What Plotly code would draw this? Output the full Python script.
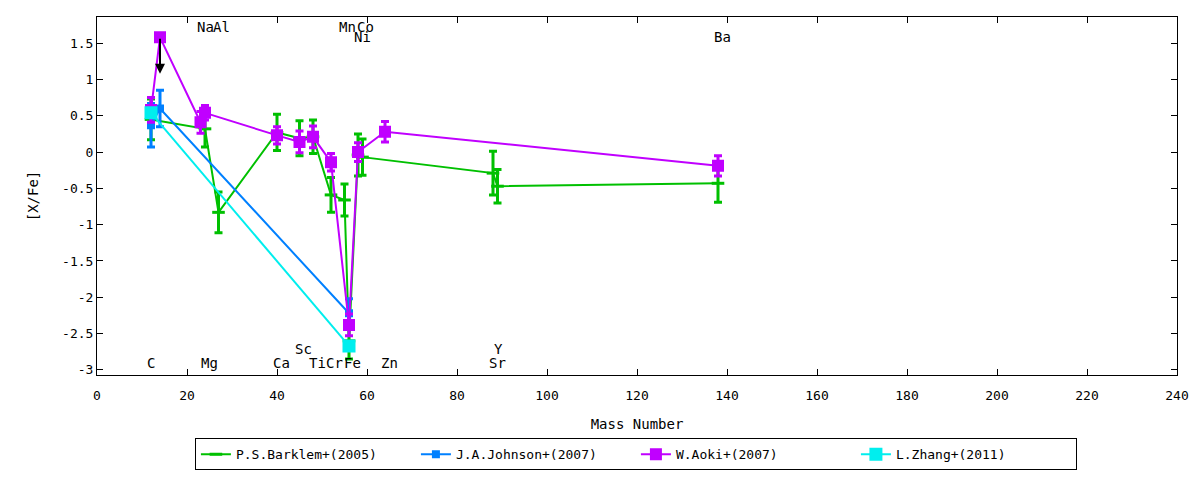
import plotly.graph_objects as go

# Abundance ratios [X/Fe] vs mass number, four literature sources
barklem_mass = [12, 24, 27, 40, 45, 48, 52, 55, 56, 58, 59, 88, 89, 138]
barklem_val = [0.45, 0.32, -0.83, 0.27, 0.19, 0.21, -0.59, -0.66, -2.60, -0.04, -0.07, -0.29, -0.47, -0.43]
barklem_err = [0.28, 0.25, 0.28, 0.25, 0.24, 0.23, 0.24, 0.22, 0.25, 0.29, 0.25, 0.30, 0.23, 0.26]

johnson_mass = [12, 14, 56]
johnson_val = [0.37, 0.60, -2.22]
johnson_err = [0.30, 0.25, 0.20]

aoki_mass = [12, 14, 23, 24, 40, 45, 48, 52, 56, 58, 64, 138]
aoki_val = [0.58, 1.58, 0.41, 0.54, 0.23, 0.14, 0.21, -0.14, -2.38, 0.00, 0.28, -0.19]
aoki_err = [0.17, 0.0, 0.15, 0.10, 0.12, 0.15, 0.15, 0.12, 0.15, 0.13, 0.14, 0.14]

zhang_mass = [12, 56]
zhang_val = [0.54, -2.67]
zhang_err = [0.05, 0.05]

# upper limit (N from Aoki) drawn as a downward arrow
limit_mass = 14
limit_val = 1.58
ARROW_LEN = 0.5

# element labels along top and bottom
elem_names = ["Na", "Al", "Mn", "Co", "Ni", "Ba",
              "C", "Mg", "Ca", "Sc", "Ti", "Cr", "Fe", "Zn", "Y", "Sr"]
elem_x = [24.0, 27.6, 55.6, 59.6, 58.9, 139.1,
          12.0, 25.1, 41.1, 45.8, 49.1, 52.7, 56.7, 65.1, 89.3, 88.9]
elem_y = [1.72, 1.72, 1.72, 1.72, 1.58, 1.58,
          -2.91, -2.91, -2.91, -2.71, -2.91, -2.91, -2.91, -2.91, -2.71, -2.91]

x_ticks = list(range(0, 241, 20))
y_ticks = [1.5, 1, 0.5, 0, -0.5, -1, -1.5, -2, -2.5, -3]
y_tick_labels = ["1.5", "1", "0.5", "0", "-0.5", "-1", "-1.5", "-2", "-2.5", "-3"]

FONT = "DejaVu Sans Mono"


def add_series(fig, mass, val, err, name, color, symbol, size, lw=2):
    fig.add_trace(go.Scatter(
        x=mass, y=val, name=name, mode="lines+markers",
        line=dict(color=color, width=lw),
        marker=dict(color=color, symbol=symbol, size=size,
                    line=dict(color=color, width=3)),
        error_y=dict(type="data", array=err, color=color, thickness=3, width=4),
    ))


fig = go.Figure()
add_series(fig, barklem_mass, barklem_val, barklem_err, "P.S.Barklem+(2005)", "#00c000", "line-ew-open", 9)
add_series(fig, johnson_mass, johnson_val, johnson_err, "J.A.Johnson+(2007)", "#0080ff", "square", 5)
add_series(fig, aoki_mass, aoki_val, aoki_err, "W.Aoki+(2007)", "#c000ff", "square", 9)
add_series(fig, zhang_mass, zhang_val, zhang_err, "L.Zhang+(2011)", "#00eeee", "square", 10)

fig.add_annotation(x=limit_mass, y=limit_val - ARROW_LEN, ax=limit_mass, ay=limit_val,
                   xref="x", yref="y", axref="x", ayref="y", text="",
                   showarrow=True, arrowhead=2, arrowsize=1, arrowwidth=2, arrowcolor="black")

for name, ex, ey in zip(elem_names, elem_x, elem_y):
    fig.add_annotation(x=ex, y=ey, text=name, showarrow=False,
                       font=dict(family=FONT, size=14, color="black"))

axis_style = dict(showline=True, linecolor="black", linewidth=1, mirror="allticks",
                  ticks="inside", ticklen=6, tickcolor="black", showgrid=False,
                  zeroline=False, automargin=False,
                  tickfont=dict(family=FONT, size=13, color="black"))

fig.update_xaxes(range=[0, 240], tickvals=x_ticks, ticklabelstandoff=8,
                 title=dict(text="Mass Number", font=dict(family=FONT, size=14, color="black"), standoff=17),
                 **axis_style)
fig.update_yaxes(range=[-3.07, 1.86], tickvals=y_ticks, ticktext=y_tick_labels,
                 title=dict(text="[X/Fe]", font=dict(family=FONT, size=14, color="black"), standoff=20),
                 **axis_style)

# page body adds an 8px margin, so the figure is sized to fit inside the window
fig.update_layout(
    width=1184, height=464,
    margin=dict(l=89, r=15, t=9, b=97, autoexpand=False),
    plot_bgcolor="white", paper_bgcolor="white",
    font=dict(family=FONT, size=13, color="black"),
    legend=dict(orientation="h", x=0.499, xanchor="center", y=-0.266, yanchor="bottom",
                bordercolor="black", borderwidth=1, bgcolor="white",
                entrywidth=175, entrywidthmode="pixels",
                font=dict(family=FONT, size=13, color="black")),
)

fig.write_html("out.html")
